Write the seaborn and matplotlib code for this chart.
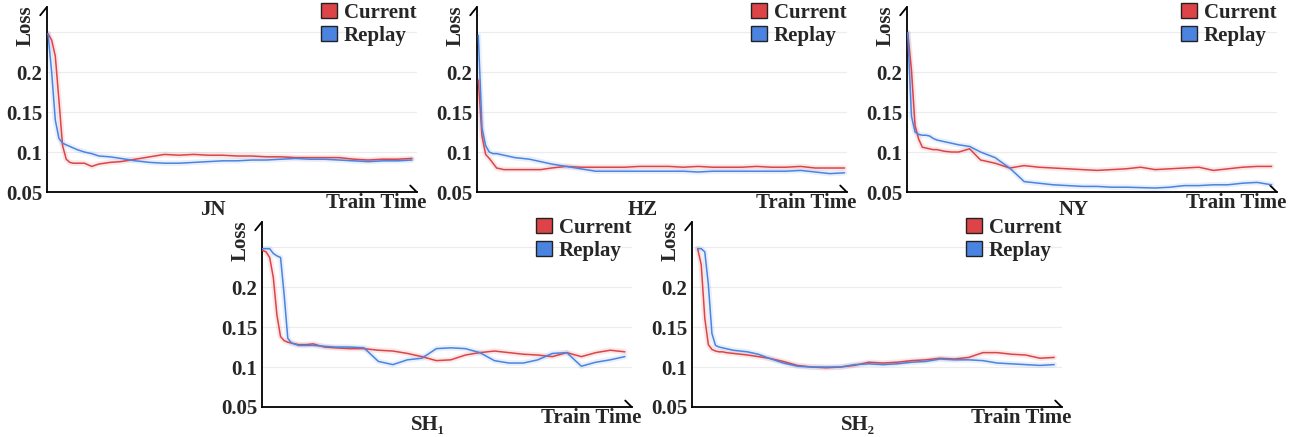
import numpy as np
import pandas as pd
import matplotlib
matplotlib.use("Agg")
import matplotlib.pyplot as plt
from matplotlib.patches import Patch
import seaborn as sns

# ---------------------------------------------------------
# Data (normalised train time in %, loss values)
# ---------------------------------------------------------
steps = [0, 1, 2, 3, 4, 5, 6, 7, 8, 10, 12, 14, 17, 20, 24, 28, 32, 36, 40,
         44, 48, 52, 56, 60, 64, 68, 72, 76, 80, 84, 88, 92, 96, 100]

jn_current = [0.248, 0.240, 0.220, 0.165, 0.108, 0.091, 0.087, 0.086, 0.086, 0.086,
              0.082, 0.085, 0.087, 0.088, 0.091, 0.094, 0.097, 0.096, 0.097, 0.096,
              0.096, 0.095, 0.095, 0.094, 0.094, 0.093, 0.093, 0.093, 0.093, 0.091,
              0.090, 0.091, 0.091, 0.092]
jn_replay = [0.248, 0.200, 0.140, 0.117, 0.111, 0.109, 0.107, 0.105, 0.103, 0.100,
             0.098, 0.095, 0.094, 0.092, 0.089, 0.087, 0.086, 0.086, 0.087, 0.088,
             0.089, 0.089, 0.090, 0.090, 0.091, 0.092, 0.091, 0.091, 0.090, 0.089,
             0.088, 0.089, 0.089, 0.090]

hz_current = [0.190, 0.120, 0.097, 0.092, 0.086, 0.080, 0.079, 0.078, 0.078, 0.078,
              0.078, 0.078, 0.078, 0.080, 0.082, 0.081, 0.081, 0.081, 0.081, 0.082,
              0.082, 0.082, 0.081, 0.082, 0.081, 0.081, 0.081, 0.082, 0.081, 0.081,
              0.082, 0.080, 0.080, 0.080]
hz_replay = [0.246, 0.130, 0.108, 0.100, 0.098, 0.098, 0.097, 0.096, 0.095, 0.093,
             0.092, 0.091, 0.088, 0.085, 0.082, 0.079, 0.076, 0.076, 0.076, 0.076,
             0.076, 0.076, 0.076, 0.075, 0.076, 0.076, 0.076, 0.076, 0.076, 0.076,
             0.077, 0.075, 0.073, 0.074]

ny_current = [0.249, 0.203, 0.133, 0.116, 0.106, 0.105, 0.104, 0.103, 0.103, 0.101,
              0.100, 0.100, 0.104, 0.090, 0.086, 0.080, 0.083, 0.081, 0.080, 0.079,
              0.078, 0.077, 0.078, 0.079, 0.081, 0.078, 0.079, 0.080, 0.081, 0.077,
              0.079, 0.081, 0.082, 0.082]
ny_replay = [0.249, 0.145, 0.125, 0.122, 0.121, 0.121, 0.120, 0.117, 0.115, 0.113,
             0.111, 0.109, 0.107, 0.100, 0.093, 0.080, 0.063, 0.061, 0.059, 0.058,
             0.057, 0.057, 0.056, 0.056, 0.0555, 0.055, 0.056, 0.058, 0.058, 0.059,
             0.059, 0.061, 0.062, 0.059]

sh1_current = [0.246, 0.244, 0.237, 0.212, 0.165, 0.138, 0.133, 0.131, 0.130, 0.128,
               0.128, 0.129, 0.125, 0.124, 0.123, 0.123, 0.121, 0.120, 0.117, 0.113,
               0.108, 0.109, 0.115, 0.118, 0.120, 0.118, 0.116, 0.115, 0.113, 0.118,
               0.113, 0.118, 0.121, 0.119]
sh1_replay = [0.248, 0.248, 0.248, 0.242, 0.239, 0.237, 0.190, 0.136, 0.130, 0.127,
              0.127, 0.127, 0.126, 0.125, 0.125, 0.124, 0.107, 0.103, 0.109, 0.111,
              0.123, 0.124, 0.123, 0.118, 0.108, 0.105, 0.105, 0.109, 0.117, 0.118,
              0.101, 0.106, 0.109, 0.113]

sh2_current = [0.248, 0.228, 0.161, 0.128, 0.122, 0.120, 0.119, 0.119, 0.118, 0.117,
               0.116, 0.115, 0.113, 0.111, 0.107, 0.102, 0.100, 0.099, 0.100, 0.102,
               0.106, 0.105, 0.106, 0.108, 0.109, 0.111, 0.110, 0.112, 0.118, 0.118,
               0.116, 0.115, 0.111, 0.112]
sh2_replay = [0.248, 0.248, 0.244, 0.203, 0.142, 0.127, 0.125, 0.124, 0.123, 0.121,
              0.120, 0.119, 0.116, 0.111, 0.105, 0.101, 0.100, 0.100, 0.100, 0.103,
              0.104, 0.103, 0.104, 0.106, 0.107, 0.110, 0.109, 0.109, 0.108, 0.105,
              0.104, 0.103, 0.102, 0.103]

series_names = ["Current", "Replay"]
ytick_vals = [0.05, 0.1, 0.15, 0.2, 0.25]
ytick_labels = ["0.05", "0.1", "0.15", "0.2", ""]

panels = [
    ("JN", jn_current, jn_replay),
    ("HZ", hz_current, hz_replay),
    ("NY", ny_current, ny_replay),
    ("SH\u2081", sh1_current, sh1_replay),
    ("SH\u2082", sh2_current, sh2_replay),
]

# ---------------------------------------------------------
# Layout (pixel positions of each axes, and x limits)
# ---------------------------------------------------------
W, H = 1296, 437
AX_W, AX_H = 370, 184.7
layout = [  # left px, x-axis px, xlim
    (46.7, 192, (-0.36, 101.3)),
    (476.7, 192, (-0.44, 100.6)),
    (906.7, 192, (-0.3, 101.4)),
    (261.7, 407, (-0.2, 101.9)),
    (691.7, 407, (-1.67, 102.1)),
]

sns.set_theme(style="white")
plt.rcParams["font.family"] = ["Liberation Serif", "DejaVu Serif"]
plt.rcParams["font.weight"] = "bold"

palette = {"Current": "#dc4448", "Replay": "#4a84e0"}
fs = 15

fig = plt.figure(figsize=(W / 100, H / 100), dpi=100)

for (name, cur, rep), (left, base, xlim) in zip(panels, layout):
    ax = fig.add_axes([left / W, (H - base) / H, AX_W / W, AX_H / H])
    n = len(steps)
    df = pd.DataFrame({
        "Train Time": steps * 2,
        "Loss": cur + rep,
        "Series": [series_names[0]] * n + [series_names[1]] * n,
    })
    # soft halo behind the smoothed curve
    sns.lineplot(data=df, x="Train Time", y="Loss", hue="Series", palette=palette,
                 lw=4, alpha=0.12, legend=False, ax=ax, zorder=2)
    sns.lineplot(data=df, x="Train Time", y="Loss", hue="Series", palette=palette,
                 lw=1.1, legend=False, ax=ax, zorder=3)

    ax.set_xlim(*xlim)
    ax.set_ylim(0.05, 0.281)
    ax.set_yticks(ytick_vals)
    ax.set_yticklabels(ytick_labels, fontsize=fs, fontweight="bold")
    ax.set_xticks([])
    ax.tick_params(axis="y", length=0, pad=3)
    ax.yaxis.grid(True, color="#ececec", lw=0.8)
    ax.set_xlabel("")
    ax.set_ylabel("")
    for side in ["top", "right"]:
        ax.spines[side].set_visible(False)
    for side in ["left", "bottom"]:
        ax.spines[side].set_color("black")
        ax.spines[side].set_linewidth(1.3)

    # half-arrow heads at the axis ends
    ax.plot([0, -6.5 / AX_W], [1, 1 - 8 / AX_H], transform=ax.transAxes,
            color="black", lw=1.3, clip_on=False)
    ax.plot([1, 1 - 6.5 / AX_W], [0, 6.5 / AX_H], transform=ax.transAxes,
            color="black", lw=1.3, clip_on=False)

    ax.text(-0.056, 1.01, "Loss", rotation=90, ha="center", va="top",
            transform=ax.transAxes, fontsize=fs, fontweight="bold")
    ax.text(1.027, -0.06, "Train Time", ha="right", va="center",
            transform=ax.transAxes, fontsize=fs, fontweight="bold")
    ax.text(0.45, -0.1, name, ha="center", va="center",
            transform=ax.transAxes, fontsize=fs, fontweight="bold")

    handles = [Patch(facecolor=palette[s], edgecolor="#222222", lw=1.0, label=s)
               for s in series_names]
    ax.legend(handles=handles, loc="upper right", bbox_to_anchor=(1.0, 1.025),
              frameon=False, borderpad=0, borderaxespad=0, handlelength=0.75,
              handleheight=0.75, handletextpad=0.35, labelspacing=0.15,
              prop={"size": fs, "weight": "bold"})

plt.savefig("out.png", dpi=100)
plt.close()
